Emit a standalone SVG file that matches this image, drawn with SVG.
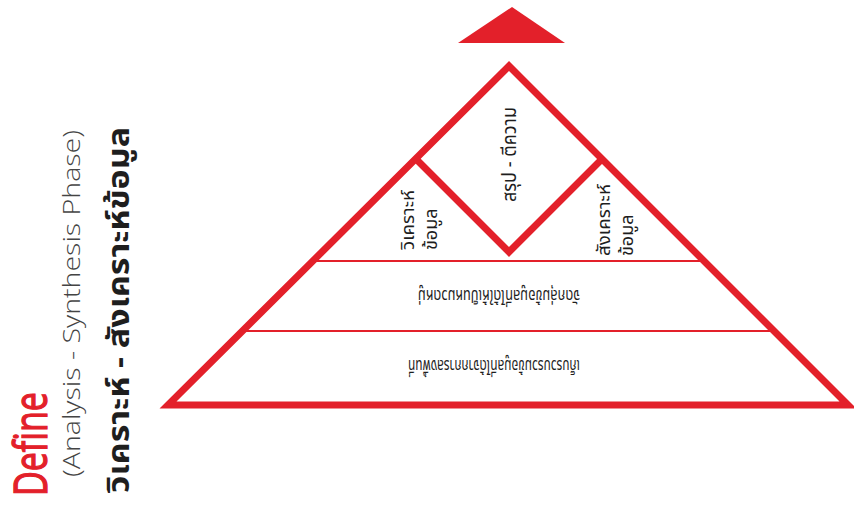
<svg xmlns="http://www.w3.org/2000/svg" width="854" height="506" viewBox="0 0 854 506">
<style>
.red{fill:#e3202a}
.edge{fill:none;stroke:#e3202a;stroke-width:7;stroke-linejoin:miter;stroke-miterlimit:10}
.thin{stroke:#e3202a;stroke-width:2}
.th{font-family:"Noto Sans Thai","Noto Sans Thai Looped","Tahoma","Noto Sans","DejaVu Sans",sans-serif;fill:#1e1e1e}
.lat{font-family:"Open Sans","Liberation Sans",sans-serif}
</style>
<rect width="854" height="506" fill="#fff"/>
<g id="top-arrow"><polygon class="red" points="512,7 458,43 565,43"/></g>
<g id="connectors">
<polygon class="edge" points="509,66 168,405 848,405"/>
<polyline class="edge" points="416,159 509,252 602,159"/>
<line class="thin" x1="314" y1="261" x2="704" y2="261"/>
<line class="thin" x1="244" y1="331" x2="774" y2="331"/>
</g>
<g id="title">
<text class="lat" font-size="45" fill="#e3202a" stroke="#e3202a" stroke-width="1.3" transform="translate(47,496) rotate(-90)" textLength="104" lengthAdjust="spacingAndGlyphs">Define</text>
<text class="lat" font-size="23" font-weight="300" fill="#444" transform="translate(80,477) rotate(-90)" textLength="347" lengthAdjust="spacingAndGlyphs">(Analysis - Synthesis Phase)</text>
<text class="th" font-size="30" font-weight="bold" transform="translate(129,493) rotate(-90)" textLength="366" lengthAdjust="spacingAndGlyphs">วิเคราะห์ - สังเคราะห์ข้อมูล</text>
</g>
<g id="analyse">
<text class="th" font-size="18" transform="translate(414,250) rotate(-90)" textLength="60" lengthAdjust="spacingAndGlyphs">วิเคราะห์</text>
<text class="th" font-size="18" transform="translate(437,250) rotate(-90)">ข้อมูล</text>
</g>
<g id="interpret">
<text class="th" font-size="19" transform="translate(516,202) rotate(-90)" textLength="95" lengthAdjust="spacingAndGlyphs">สรุป - ตีความ</text>
</g>
<g id="synthesise">
<text class="th" font-size="18" transform="translate(610,256) rotate(-90)" textLength="72" lengthAdjust="spacingAndGlyphs">สังเคราะห์</text>
<text class="th" font-size="18" transform="translate(633,256) rotate(-90)">ข้อมูล</text>
</g>
<g id="middle-tier">
<text class="th" font-size="17" transform="translate(499,290) rotate(180)" text-anchor="middle" textLength="162" lengthAdjust="spacingAndGlyphs">จัดกลุ่มข้อมูลที่ได้ให้เป็นหมวดหมู่</text>
</g>
<g id="bottom-tier">
<text class="th" font-size="17" transform="translate(494,360) rotate(180)" text-anchor="middle" textLength="172" lengthAdjust="spacingAndGlyphs">เก็บรวบรวมข้อมูลที่ได้จากการลงพื้นที่</text>
</g>
</svg>
